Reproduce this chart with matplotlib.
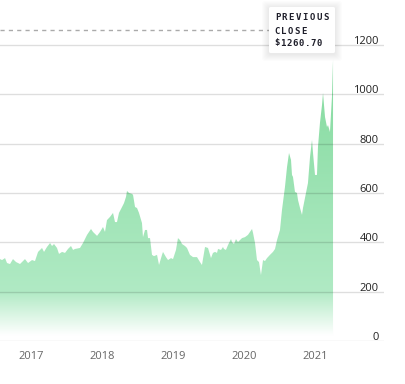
import numpy as np
import matplotlib
matplotlib.use("Agg")
import matplotlib.pyplot as plt
from matplotlib.patches import FancyBboxPatch
from matplotlib.transforms import blended_transform_factory

# price history, decimal year -> closing price
dates = [2016.563, 2016.592, 2016.634, 2016.662, 2016.704, 2016.746, 2016.789, 2016.845,
         2016.915, 2016.958, 2017.014, 2017.056, 2017.099, 2017.155, 2017.183, 2017.225,
         2017.268, 2017.296, 2017.324, 2017.366, 2017.394, 2017.437, 2017.479, 2017.521,
         2017.563, 2017.592, 2017.620, 2017.690, 2017.732, 2017.789, 2017.845, 2017.873,
         2017.930, 2017.972, 2018.014, 2018.042, 2018.070, 2018.113, 2018.155, 2018.183,
         2018.211, 2018.239, 2018.282, 2018.310, 2018.338, 2018.352, 2018.380, 2018.423,
         2018.437, 2018.465, 2018.493, 2018.521, 2018.563, 2018.577, 2018.606, 2018.634,
         2018.648, 2018.676, 2018.704, 2018.732, 2018.775, 2018.803, 2018.845, 2018.859,
         2018.901, 2018.930, 2018.972, 2019.000, 2019.042, 2019.070, 2019.099, 2019.127,
         2019.169, 2019.197, 2019.239, 2019.282, 2019.338, 2019.380, 2019.408, 2019.451,
         2019.493, 2019.535, 2019.563, 2019.592, 2019.620, 2019.634, 2019.676, 2019.704,
         2019.718, 2019.746, 2019.775, 2019.817, 2019.831, 2019.859, 2019.887, 2019.915,
         2019.972, 2020.014, 2020.056, 2020.113, 2020.127, 2020.155, 2020.183, 2020.211,
         2020.239, 2020.268, 2020.296, 2020.324, 2020.366, 2020.408, 2020.437, 2020.465,
         2020.507, 2020.535, 2020.577, 2020.606, 2020.634, 2020.662, 2020.676, 2020.690,
         2020.718, 2020.746, 2020.761, 2020.789, 2020.817, 2020.831, 2020.873, 2020.901,
         2020.930, 2020.958, 2020.972, 2021.000, 2021.028, 2021.042, 2021.070, 2021.099,
         2021.113, 2021.141, 2021.169, 2021.183, 2021.211, 2021.239, 2021.254]
prices = [332, 328, 336, 316, 312, 332, 320, 312,
          332, 316, 328, 324, 361, 377, 361, 381,
          397, 385, 393, 377, 353, 361, 357, 373,
          385, 369, 373, 377, 397, 430, 454, 442,
          426, 442, 462, 442, 490, 503, 519, 482,
          482, 519, 543, 559, 584, 608, 600, 596,
          592, 543, 539, 519, 478, 421, 450, 450,
          417, 417, 349, 344, 349, 308, 349, 361,
          340, 328, 336, 332, 369, 417, 409, 393,
          385, 377, 349, 340, 340, 320, 308, 381,
          377, 336, 357, 361, 357, 373, 369, 381,
          373, 369, 389, 413, 401, 393, 413, 401,
          417, 421, 430, 454, 438, 397, 328, 320,
          267, 328, 324, 336, 349, 361, 373, 409,
          450, 531, 624, 705, 762, 734, 673, 665,
          604, 600, 571, 539, 511, 539, 600, 640,
          746, 815, 762, 673, 673, 786, 884, 957,
          1005, 908, 867, 875, 847, 989, 1139]

prev_close = 1260.70
year_ticks = [2017, 2018, 2019, 2020, 2021]
year_labels = ["2017", "2018", "2019", "2020", "2021"]
price_ticks = [0, 200, 400, 600, 800, 1000, 1200]

W, H = 405, 384
fig = plt.figure(figsize=(W / 100, H / 100), dpi=100)
ax = fig.add_axes([0, 43 / H, 384 / W, 341 / H])
xmin, xmax = 2016.563, 2021.972
ymax = 1382

# invisible area, used only as clip path for the gradient
poly = ax.fill_between(dates, prices, 0, facecolor="none", edgecolor="none")

# vertical gradient: green at top, fading to white near zero
vals = np.linspace(0, ymax, 400)
stops_v = [0, 22, 200, 1150]
r = np.interp(vals, stops_v, [255, 255, 176, 131])
g = np.interp(vals, stops_v, [255, 255, 234, 218])
b = np.interp(vals, stops_v, [255, 255, 196, 158])
grad = np.stack([r, g, b], axis=-1)[:, None, :] / 255.0
im = ax.imshow(grad, extent=(xmin, xmax, 0, ymax), origin="lower",
               aspect="auto", zorder=1, interpolation="bilinear")
im.set_clip_path(poly.get_paths()[0], transform=ax.transData)

for v in price_ticks:
    ax.axhline(v, color=(0, 0, 0, 0.13), lw=1, zorder=2)

ax.set_xlim(xmin, xmax)
ax.set_ylim(0, ymax)
for s in ax.spines.values():
    s.set_visible(False)
ax.set_yticks([])
ax.set_xticks(year_ticks)
ax.set_xticklabels(year_labels, fontfamily="Open Sans", fontsize=8, color="#666666")
ax.tick_params(axis="x", length=0, pad=7)

trans = blended_transform_factory(ax.transAxes, ax.transData)
for v in price_ticks:
    ax.text(379 / 384, v + 4, str(v), transform=trans, ha="right", va="baseline",
            fontfamily="Open Sans", fontsize=8, color="#222222")

# previous close dashed line up to the tooltip
ax.plot([xmin, xmin + (269 / 71)], [prev_close, prev_close], color="#aaaaaa",
        lw=1, ls=(0, (3, 3)), zorder=3)


def px(x, y):
    return x / W, 1 - y / H


# tooltip with soft shadow
bx0, by0, bx1, by1 = 269, 7, 335, 53
for k in range(1, 8):
    x0, y0 = px(bx0 - k, by1 + k + 1)
    fig.patches.append(FancyBboxPatch((x0, y0), (bx1 - bx0 + 2 * k) / W,
                                      (by1 - by0 + 2 * k) / H,
                                      boxstyle="round,pad=0,rounding_size=0.008",
                                      transform=fig.transFigure, facecolor="black",
                                      alpha=0.012, edgecolor="none", zorder=5))
x0, y0 = px(bx0, by1)
fig.patches.append(FancyBboxPatch((x0, y0), (bx1 - bx0) / W, (by1 - by0) / H,
                                  boxstyle="round,pad=0,rounding_size=0.004",
                                  transform=fig.transFigure, facecolor="white",
                                  edgecolor="none", zorder=6))

tip_lines = [("PREVIOUS", 18, 6.9), ("CLOSE", 31, 6.6), ("$%.2f" % prev_close, 43, 6.05)]
for txt, yc, adv in tip_lines:
    for i, ch in enumerate(txt):
        fx, fy = px(274 + adv / 2 + i * adv, yc)
        fig.text(fx, fy, ch, ha="center", va="center", fontsize=6.5, fontweight="bold",
                 fontfamily="DejaVu Sans Mono", color="#1e1e2a", zorder=7)

fig.savefig("out.png", dpi=100)
